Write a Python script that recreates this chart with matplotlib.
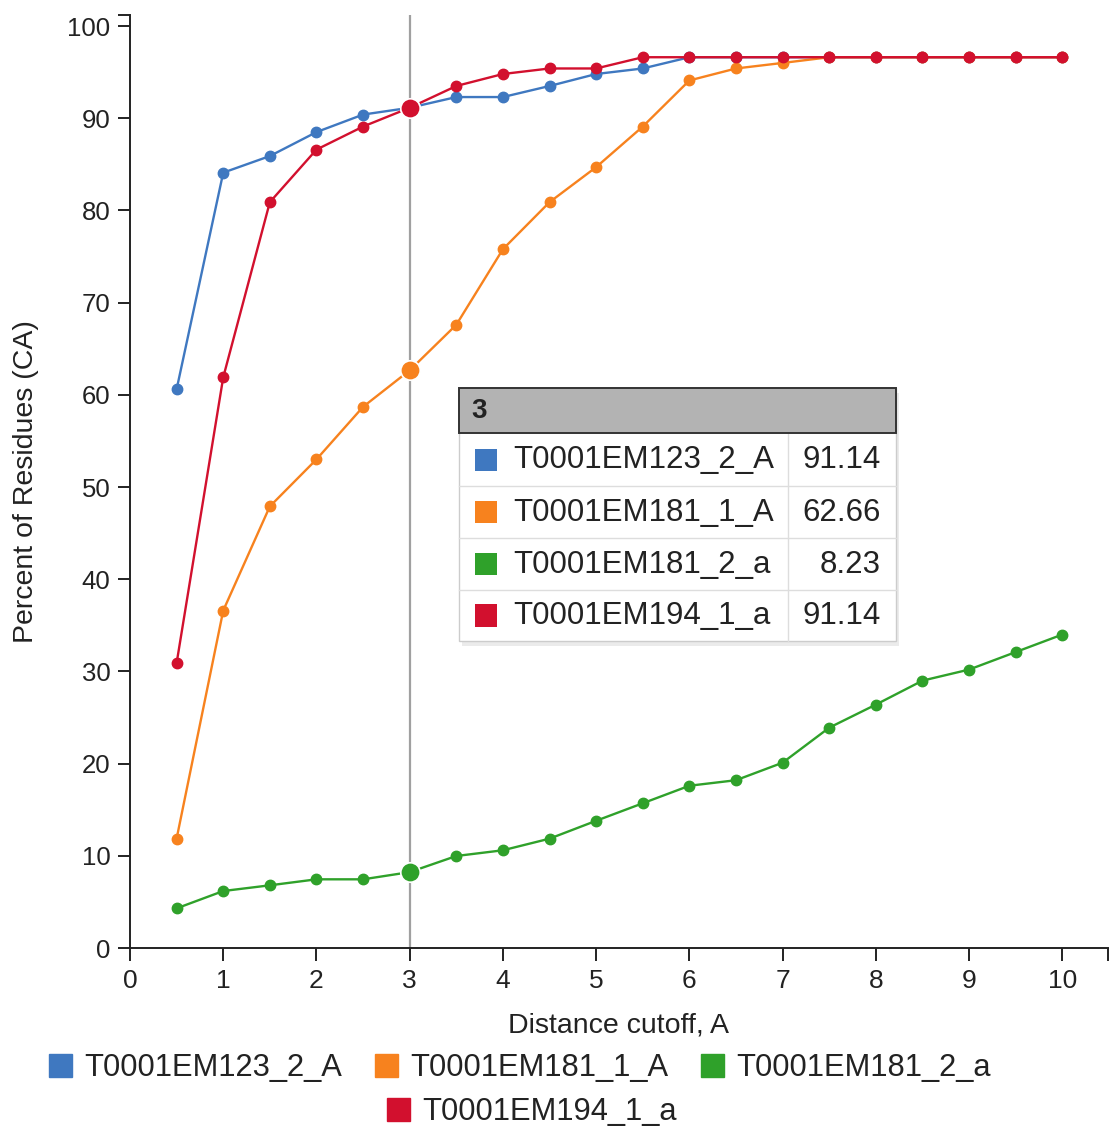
import matplotlib
matplotlib.use('Agg')
import matplotlib.pyplot as plt
from matplotlib.patches import Rectangle, Patch

plt.rcParams['font.family'] = ['Liberation Sans', 'DejaVu Sans']

W, H = 1111, 1129

# data
cutoff = [0.5, 1.0, 1.5, 2.0, 2.5, 3.0, 3.5, 4.0, 4.5, 5.0,
          5.5, 6.0, 6.5, 7.0, 7.5, 8.0, 8.5, 9.0, 9.5, 10.0]
names = ['T0001EM123_2_A', 'T0001EM181_1_A', 'T0001EM181_2_a', 'T0001EM194_1_a']
colors = ['#3f78c0', '#f7821e', '#2fa12a', '#d2102e']
em123_2 = [60.6, 84.1, 85.9, 88.5, 90.4, 91.14, 92.3, 92.3, 93.5, 94.8,
           95.4, 96.62, 96.62, 96.62, 96.62, 96.62, 96.62, 96.62, 96.62, 96.62]
em181_1 = [11.86, 36.6, 47.9, 53.0, 58.7, 62.66, 67.6, 75.8, 80.9, 84.7,
           89.1, 94.1, 95.4, 96.0, 96.62, 96.62, 96.62, 96.62, 96.62, 96.62]
em181_2 = [4.30, 6.18, 6.8, 7.45, 7.45, 8.23, 9.98, 10.6, 11.86, 13.8,
           15.7, 17.6, 18.2, 20.1, 23.9, 26.4, 29.0, 30.2, 32.1, 34.0]
em194_1 = [30.9, 61.9, 80.9, 86.6, 89.1, 91.14, 93.5, 94.8, 95.4, 95.4,
           96.62, 96.62, 96.62, 96.62, 96.62, 96.62, 96.62, 96.62, 96.62, 96.62]
series = [em123_2, em181_1, em181_2, em194_1]
hover_x = 3.0
xticks = list(range(0, 11))
yticks = list(range(0, 101, 10))

fig = plt.figure(figsize=(W / 100, H / 100), dpi=100)
ax = fig.add_axes([130 / W, 1 - 948 / H, (1108 - 130) / W, (948 - 15) / H])

def fx(px):
    return px / W

def fy(py):
    return 1 - py / H

ax.axvline(hover_x, color='#a0a0a0', lw=1.6, zorder=1)

hi = cutoff.index(hover_x)
for vals, c in zip(series, colors):
    ax.plot(cutoff, vals, color=c, lw=1.7, marker='o', ms=7.5, mec=c, zorder=3)
for vals, c in zip(series, colors):
    ax.plot([cutoff[hi]], [vals[hi]], 'o', color=c, ms=14, mec='white', mew=1.2, zorder=4)

ax.set_xlim(0, 10.49)
ax.set_ylim(0, 101.2)
ax.set_xticks(xticks)
ax.set_yticks(yticks)
ax.set_xticks([10.49], minor=True)
ax.set_yticks([101.2], minor=True)
ax.tick_params(which='both', length=9, width=1.4, color='#222222', labelcolor='#222222')
ax.tick_params(axis='x', labelsize=19, pad=6)
ax.tick_params(axis='y', labelsize=18.5, pad=5)
for s in ['top', 'right']:
    ax.spines[s].set_visible(False)
for s in ['left', 'bottom']:
    ax.spines[s].set_linewidth(1.4)
    ax.spines[s].set_color('#222222')
ax.set_xlabel('Distance cutoff, A', fontsize=20.5, color='#222222', labelpad=14)
ax.set_ylabel('Percent of Residues (CA)', fontsize=20.5, color='#222222')
ax.yaxis.set_label_coords((39 - 130) / (1108 - 130), 0.5)

# tooltip box
left, right, div = 459, 896, 788
rows = [433, 486, 538, 590, 641]
fig.patches.append(Rectangle((fx(left + 3), fy(rows[-1] + 5)), fx(right - left), fy(388) - fy(rows[-1]),
                             transform=fig.transFigure, color='#000000', alpha=0.08, lw=0, zorder=5))
fig.patches.append(Rectangle((fx(left), fy(rows[-1])), fx(right - left), fy(388) - fy(rows[-1]),
                             transform=fig.transFigure, fc='white', ec='#cccccc', lw=1, zorder=6))
fig.patches.append(Rectangle((fx(left), fy(433)), fx(right - left), fy(388) - fy(433),
                             transform=fig.transFigure, fc='#b3b3b3', ec='#333333', lw=1.4, zorder=7))
fig.text(fx(471), fy(411), '%g' % hover_x, fontsize=20, fontweight='bold', color='#222222',
         va='center', ha='left', zorder=8)
for i, (n, c, vals) in enumerate(zip(names, colors, series)):
    top, bot = rows[i], rows[i + 1]
    mid = (top + bot) / 2
    if i > 0:
        fig.add_artist(plt.Line2D([fx(left), fx(right)], [fy(top), fy(top)], color='#dddddd',
                                  lw=1, transform=fig.transFigure, zorder=7))
    fig.patches.append(Rectangle((fx(475), fy(mid + 11)), fx(22), fy(mid - 11) - fy(mid + 11),
                                 transform=fig.transFigure, fc=c, ec='none', zorder=8))
    fig.text(fx(513), fy(mid + 1), n, fontsize=22.5, color='#222222', va='center', ha='left', zorder=8)
    fig.text(fx(881), fy(mid + 1), '%.2f' % vals[hi], fontsize=22.5, color='#222222',
             va='center', ha='right', zorder=8)
fig.add_artist(plt.Line2D([fx(div), fx(div)], [fy(433), fy(rows[-1])], color='#dddddd',
                          lw=1, transform=fig.transFigure, zorder=7))

# bottom legend
handles = [Patch(color=c, label=n) for n, c in zip(names, colors)]
kw = dict(frameon=False, fontsize=22.2, handlelength=0.75, handleheight=0.75,
          handletextpad=0.4, columnspacing=1.05, borderpad=0, labelcolor='#222222')
fig.legend(handles=handles[:3], ncol=3, loc='center', bbox_to_anchor=(fx(520), fy(1068)), **kw)
fig.legend(handles=handles[3:], ncol=1, loc='center', bbox_to_anchor=(fx(532), fy(1112)), **kw)

fig.savefig('out.png', dpi=100)
